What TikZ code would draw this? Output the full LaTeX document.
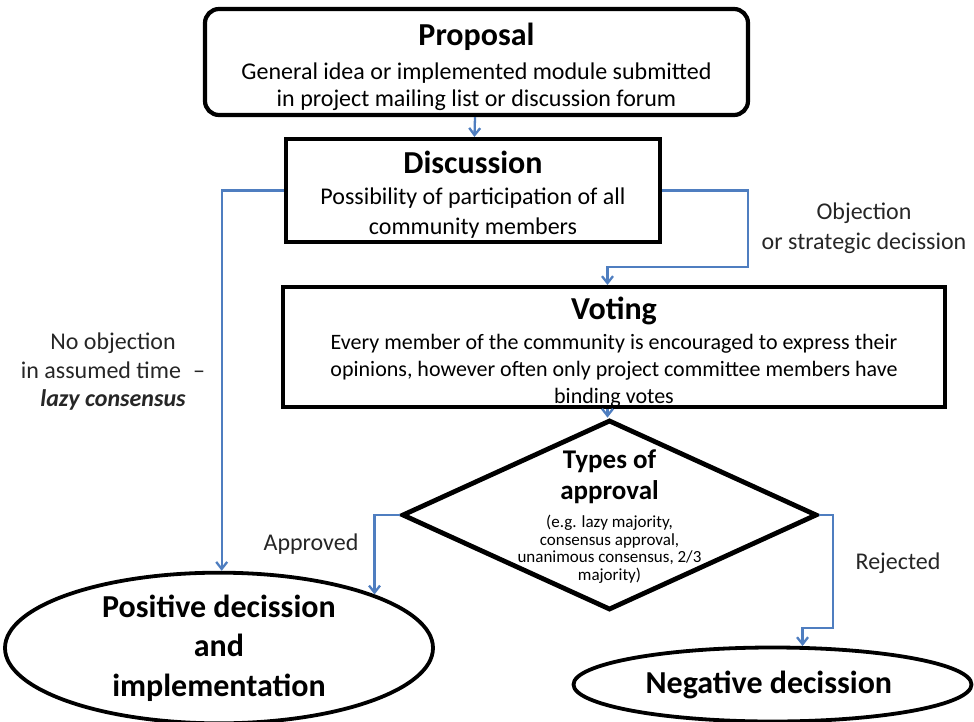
\documentclass[tikz,border=0pt]{standalone}
\usepackage{fontspec}
\setmainfont{Carlito}
\usepackage{tikz}
\usetikzlibrary{positioning,shapes.geometric,arrows.meta}

\newcommand\stagetitle{\bfseries\fontsize{32}{36}\selectfont}
\newcommand\stagetext{\fontsize{24}{27}\selectfont}
\newcommand\votingtext{\fontsize{22}{27}\selectfont}
\newcommand\smalltext{\fontsize{17}{17.5}\selectfont}

\definecolor{flowblue}{RGB}{79,126,192}

\tikzset{
	stagebox/.style={draw, line width=4.2pt, align=center, font=\stagetext, inner sep=0pt},
	outcome/.style={draw, ellipse, line width=3.8pt, align=center, inner sep=0pt},
	flowline/.style={draw=flowblue, line width=2.3pt, -{Straight Barb[length=7pt,width=11pt,line width=2.3pt]}},
	flowlabel/.style={align=center, font=\fontsize{24}{28.5}\selectfont, text=black!85},
}

\begin{document}
\begin{tikzpicture}[x=1pt, y=-1pt]

\useasboundingbox (0,0) rectangle (974,722);

% Proposal
\node [stagebox,
	rounded corners=14,
	minimum width=543,
	minimum height=106
] (proposal) at (476.5, 62) {
{\stagetitle\rule{0pt}{33pt}Proposal}\\[7pt]
General idea or implemented module submitted\\
in project mailing list or discussion forum
};

% Discussion
\node [stagebox,
	font=\fontsize{24}{30}\selectfont,
	minimum width=374,
	minimum height=103
] (discussion) at (473, 190.5) {
{\stagetitle\rule{0pt}{30pt}Discussion}\\[1pt]
Possibility of participation of all\\
community members
};

% Voting
\node [stagebox,
	font=\votingtext,
	minimum width=662,
	minimum height=112
] (voting) at (614, 347) {
{\stagetitle\rule{0pt}{32pt}Voting}\\[3pt]
Every member of the community is encouraged to express their\\
opinions, however often only project committee members have\\
binding votes
};

% Types of approval
\node [draw,
	diamond,
	line width=4.8pt,
	minimum width=415,
	minimum height=190,
	inner sep=0pt
] (approval) at (609.5, 515) {};
\node [align=center,
	font=\bfseries\fontsize{27}{31}\selectfont
] (approval_title) at (609.5, 477) {
Types of\\
approval
};
\node [align=center,
	font=\smalltext
] (approval_note) at (609.5, 549) {
(e.g. lazy majority,\\
consensus approval,\\
unanimous consensus, 2/3\\
majority)
};

% Positive decission
\node [outcome,
	minimum width=428,
	minimum height=146,
	font=\bfseries\fontsize{32}{39.5}\selectfont
] (positive) at (219, 648) {
Positive decission\\
and\\
implementation
};

% Negative decission
\node [outcome,
	minimum width=398,
	minimum height=74,
	font=\bfseries\fontsize{32}{36}\selectfont
] (negative) at (772.5, 684.5) {
Negative decission
};

% Bends
\coordinate (objection_bend) at (748, 267);
\coordinate (rejected_bend) at (833, 628);

% Connectors
\draw[flowline] (proposal) -- (discussion);
\draw[flowline] (discussion.west) -| (positive.88);
\draw[flowline] (discussion.east) -| (objection_bend) -| ([xshift=-2]approval.north |- voting.north);
\draw[flowline] ([xshift=-2]approval.north |- voting.south) -- ([xshift=-2]approval.north);
\draw[flowline] (approval.west) -| (positive.19);
\draw[flowline] (approval.east) -| (rejected_bend) -| (negative.52);

% Labels
\node [flowlabel] (no_objection) at (113, 372) {
No objection\\
in assumed time \;–\\
\bfseries\itshape lazy consensus
};
\node [flowlabel,
	font=\fontsize{24}{30}\selectfont
] (objection) at (864, 228) {
Objection\\
or strategic decission
};
\node [flowlabel] (approved) at (311, 544) {Approved};
\node [flowlabel] (rejected) at (898, 563) {Rejected};

\end{tikzpicture}
\end{document}
